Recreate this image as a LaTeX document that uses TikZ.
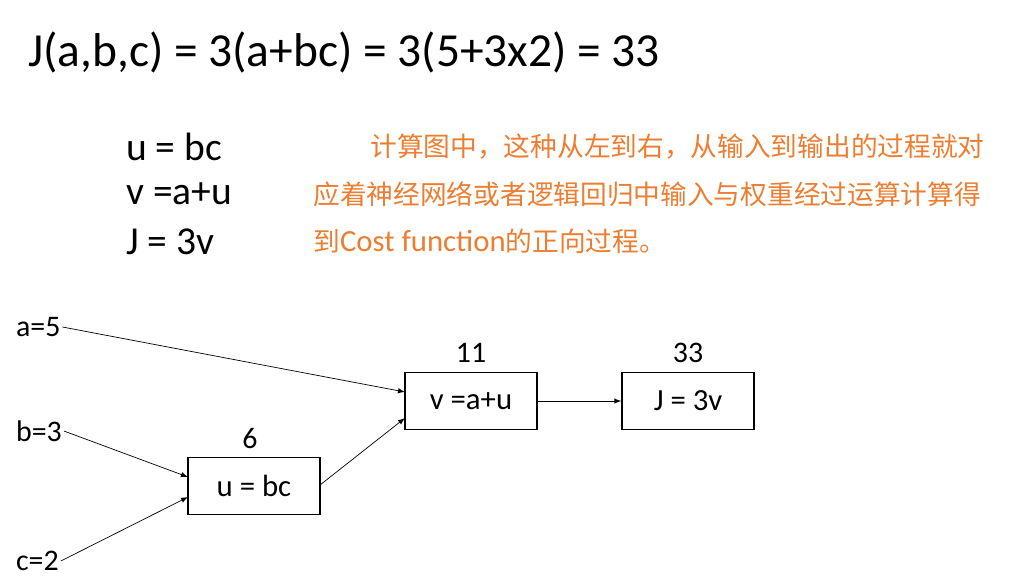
\documentclass[tikz,border=0pt]{standalone}
\usepackage{fontspec}
\setmainfont{Carlito}
\newfontfamily\cjk{Noto Sans CJK SC}
\definecolor{orng}{RGB}{237,125,49}
\begin{document}
\begin{tikzpicture}[x=0.02cm,y=-0.02cm,
  box/.style={draw,thick,minimum width=132*0.02cm,minimum height=57*0.02cm,inner sep=0,font=\fontsize{17.5}{20}\selectfont},
  lbl/.style={font=\fontsize{17}{20}\selectfont,inner sep=1pt},
  eq/.style={anchor=west,font=\fontsize{22.5}{26}\selectfont},
  cn/.style={anchor=west,text=orng,font=\cjk\fontsize{15.2}{18}\selectfont,inner sep=0},
  arr/.style={-latex}]
\useasboundingbox (0,0) rectangle (1027,586);
\node[anchor=west,font=\fontsize{27}{30}\selectfont] (title) at (22,52) {J(a,b,c) = 3(a+bc) = 3(5+3x2) = 33};
\node[eq] (e1) at (120,147) {u = bc};
\node[eq] (e2) at (120,194) {v =a+u};
\node[eq] (e3) at (120,242) {J = 3v};
\node[cn] (t1) at (370,147) {计算图中，这种从左到右，从输入到输出的过程就对};
\node[cn] (t2) at (313,194) {应着神经网络或者逻辑回归中输入与权重经过运算计算得};
\node[cn] (t3) at (313,241) {到{\fontspec{Carlito}\fontsize{17.5}{20}\selectfont Cost function}的正向过程。};
\node[box] (u) at (254,486) {u = bc};
\node[box] (v) at (471,401) {v =a+u};
\node[box] (J) at (688,401) {J = 3v};
\node[lbl] (l6) at (250,439) {6};
\node[lbl] (l11) at (471,353) {11};
\node[lbl] (l33) at (688,353) {33};
\node[lbl,anchor=west] (a) at (14,327) {a=5};
\node[lbl,anchor=west] (b) at (14,431) {b=3};
\node[lbl,anchor=west] (c) at (14,561) {c=2};
\coordinate (av) at (405,392);
\coordinate (ub) at (188,477);
\coordinate (uc) at (188,497);
\coordinate (uo) at (320,485);
\coordinate (vi) at (405,418);
\draw[arr] (a.east) -- (av);
\draw[arr] (b.east) -- (ub);
\draw[arr] (c.east) -- (uc);
\draw[arr] (uo) -- (vi);
\draw[arr] (v.east) -- (J.west);
\end{tikzpicture}
\end{document}
